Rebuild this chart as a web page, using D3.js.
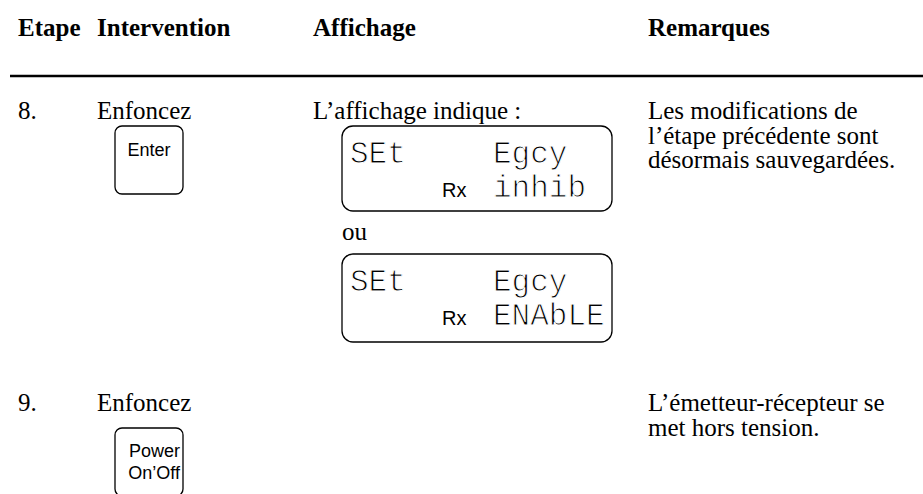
<!DOCTYPE html>
<html>
<head>
<meta charset="utf-8">
<script src="https://cdn.jsdelivr.net/npm/d3@7"></script>
<style>
  html, body { margin: 0; padding: 0; background: #fff; }
  svg { display: block; }
</style>
</head>
<body>
<svg id="chart" width="923" height="494"></svg>
<script>
// ---------- data ----------
const headers = ["Etape", "Intervention", "Affichage", "Remarques"];
const steps = ["8.", "9."];
const actions = ["Enfoncez", "Enfoncez"];
const keyLabels = [["Enter"], ["Power", "On’Off"]];
const displayIntro = ["L’affichage indique :", ""];
const displayOr = "ou";
const lcdLine1 = [["SEt", "Egcy"], ["SEt", "Egcy"]];
const lcdLine2 = [["Rx", "inhib"], ["Rx", "ENAbLE"]];
const remarks = [
  ["Les modifications de", "l’étape précédente sont", "désormais sauvegardées."],
  ["L’émetteur-récepteur se", "met hors tension."]
];

// ---------- layout ----------
const svg = d3.select("#chart");
const serif = "'Liberation Serif', 'Times New Roman', serif";
const sans = "'Liberation Sans', Arial, sans-serif";
const mono = "'Liberation Mono', 'DejaVu Sans Mono', monospace";
const fs = 25;

const colX = d3.scaleOrdinal().domain(headers).range([18, 97, 313, 648]);
const rowY = d3.scaleOrdinal().domain(steps).range([119, 411]);
const lineH = 24.5;

// headers
svg.selectAll("text.hdr").data(headers).join("text")
  .attr("class", "hdr")
  .attr("x", d => colX(d)).attr("y", 36)
  .attr("font-family", serif).attr("font-weight", "bold").attr("font-size", fs)
  .attr("fill", "#000").text(d => d);

svg.append("line").attr("x1", 10).attr("x2", 923).attr("y1", 76).attr("y2", 76)
  .attr("stroke", "#000").attr("stroke-width", 2.5);

// rows
steps.forEach((s, i) => {
  const y = rowY(s);
  svg.append("text").attr("x", colX("Etape")).attr("y", y)
    .attr("font-family", serif).attr("font-size", fs).text(s);
  svg.append("text").attr("x", colX("Intervention")).attr("y", y)
    .attr("font-family", serif).attr("font-size", fs).text(actions[i]);

  // key
  const kx = 115, ky = (i === 0 ? 126 : 428), kw = 68, kh = 68;
  svg.append("rect").attr("x", kx).attr("y", ky).attr("width", kw).attr("height", kh)
    .attr("rx", 7).attr("fill", "#fff").attr("stroke", "#000").attr("stroke-width", 1.3);
  const labs = keyLabels[i];
  if (labs.length === 1) {
    svg.append("text").attr("x", kx + kw / 2).attr("y", ky + 30)
      .attr("text-anchor", "middle").attr("font-family", sans).attr("font-size", 18)
      .text(labs[0]);
  } else {
    labs.forEach((l, j) => {
      svg.append("text").attr("x", kx + kw - 3).attr("y", ky + 29 + j * 22)
        .attr("text-anchor", "end").attr("font-family", sans).attr("font-size", 18)
        .text(l);
    });
  }

  // remarks
  remarks[i].forEach((r, j) => {
    svg.append("text").attr("x", colX("Remarques")).attr("y", y + j * lineH)
      .attr("font-family", serif).attr("font-size", fs).text(r);
  });

  // display
  if (displayIntro[i]) {
    svg.append("text").attr("x", colX("Affichage")).attr("y", y)
      .attr("font-family", serif).attr("font-size", fs).text(displayIntro[i]);
  }
});

// LCD boxes (both in row 8)
const lcdTop = [126, 254];
const lcdH = [85, 88];
function lcdText(x, y, t) {
  svg.append("text").attr("x", x).attr("y", y)
    .attr("font-family", mono).attr("font-size", 31)
    .attr("fill", "#000").attr("stroke", "#fff").attr("stroke-width", 1)
    .style("paint-order", "fill")
    .text(t);
}
lcdTop.forEach((t, k) => {
  const bx = 342, bw = 270;
  svg.append("rect").attr("x", bx).attr("y", t).attr("width", bw).attr("height", lcdH[k])
    .attr("rx", 11).attr("fill", "#fff").attr("stroke", "#000").attr("stroke-width", 1.3);
  const b1 = t + 37, b2 = t + 71;
  lcdText(350, b1, lcdLine1[k][0]);
  lcdText(493, b1, lcdLine1[k][1]);
  svg.append("text").attr("x", 442).attr("y", b2)
    .attr("font-family", sans).attr("font-size", 20).text(lcdLine2[k][0]);
  lcdText(493, b2, lcdLine2[k][1]);
});
svg.append("text").attr("x", 342).attr("y", 240)
  .attr("font-family", serif).attr("font-size", fs).text(displayOr);
</script>
</body>
</html>
